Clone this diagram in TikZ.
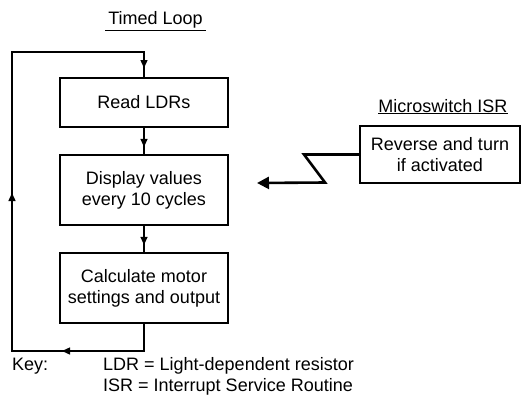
\documentclass[tikz,border=0pt]{standalone}
\usepackage{fontspec}
\setmainfont{Liberation Sans}
\usetikzlibrary{arrows.meta, positioning, calc, decorations.markings}

\tikzset{flowtip/.tip={Triangle[length=8pt, width=7pt]}}

\begin{document}
\begin{tikzpicture}[
    x=1pt, y=-1pt,
    node distance=28pt,
    box/.style={rectangle, draw=black, line width=1.5pt, minimum width=168pt,
                inner sep=0pt, outer sep=0pt, align=center,
                font=\fontsize{18}{21}\selectfont},
    heading/.style={font=\fontsize{18}{21}\selectfont, inner sep=0pt, anchor=base},
    keytext/.style={font=\fontsize{18}{21}\selectfont, inner sep=0pt, anchor=base west},
    line/.style={draw=black, line width=1.4pt},
    midarrow/.style={postaction={decorate, decoration={markings,
                mark=at position #1 with {\arrow{flowtip}}}}},
    loopmarks/.style={postaction={decorate, decoration={markings,
                mark=at position 110pt with {\arrow{flowtip}},
                mark=at position 318pt with {\arrow{flowtip}},
                mark=at position 607pt with {\arrow{flowtip}}}}},
    isrline/.style={draw=black, line width=2.6pt, -{Triangle[length=12pt, width=12pt]}},
]
\useasboundingbox (0,0) rectangle (521,404);

% timed loop
\node[heading] (looptitle) at (155.5,25) {\underline{\hspace{3pt}Timed Loop\hspace{3pt}}};
\node[box, minimum height=49pt] (read) at (144,102.5) {Read LDRs};
\node[box, minimum height=70pt, below=of read] (display) {Display values\\every 10 cycles};
\node[box, minimum height=70pt, below=of display] (calc) {Calculate motor\\settings and output};

\draw[line, midarrow=0.71] (read) -- (display);
\draw[line, midarrow=0.71] (display) -- (calc);

% return path
\coordinate (loopbl) at (12,351);
\coordinate (looptl) at (12,52);
\draw[line, loopmarks] (calc.south) |- (loopbl) -- (looptl) -| (read.north);

% interrupt
\node[heading] (isrtitle) at (443,112) {\underline{Microswitch ISR}};
\node[box, minimum width=160pt, minimum height=57pt] (isr) at (440,154.5)
    {Reverse and turn\\if activated};
\coordinate (isrend) at (257,183);
\draw[isrline] (isr.west) -- ++(-56,0) -- ++(21,28) -- (isrend);

% key
\node[keytext] (key) at (12,370) {Key:};
\node[keytext] (keyldr) at (103,370) {LDR = Light-dependent resistor};
\node[keytext] (keyisr) at (103,391) {ISR = Interrupt Service Routine};
\end{tikzpicture}
\end{document}
